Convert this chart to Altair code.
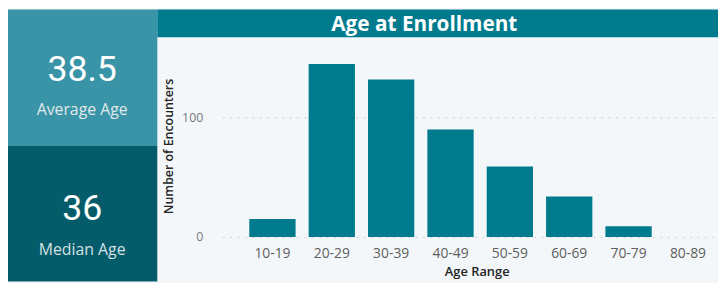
import altair as alt
import pandas as pd

# ---- data ----
age_ranges = ["10-19", "20-29", "30-39", "40-49", "50-59", "60-69", "70-79", "80-89"]
encounters = [15, 145, 132, 90, 59, 34, 9, 0]
average_age = 38.5
median_age = 36
card_labels = ["Average Age", "Median Age"]
chart_title = "Age at Enrollment"

df = pd.DataFrame({"range": age_ranges, "count": encounters})
one = alt.Data(values=[{}])

NUM_FONT = "Roboto"
FONT = "Open Sans"
BAR = "#007B8E"

def rect(x, x2, y, y2, color):
    return alt.Chart(one).mark_rect(color=color).encode(
        x=alt.value(x), x2=alt.value(x2), y=alt.value(y), y2=alt.value(y2)
    )

def text(t, x, y, size, color, weight="normal", font=FONT):
    return alt.Chart(one).mark_text(
        text=t, fontSize=size, color=color, fontWeight=weight, font=font,
        align="center", baseline="alphabetic"
    ).encode(x=alt.value(x), y=alt.value(y))

top_card = rect(-217, -66, -37, 101, "#3A94A7")
bottom_card = rect(-217, -66, 101, 238, "#045C6B")
title_bar = rect(-66, 501, -37, -9, "#007B8E")

bars = alt.Chart(df).mark_bar(color=BAR).encode(
    x=alt.X(
        "range:N",
        sort=age_ranges,
        scale=alt.Scale(paddingInner=0.22, paddingOuter=0.25, align=0.9, round=False),
        axis=alt.Axis(
            title="Age Range", labelAngle=0, ticks=False, domain=False,
            labelPadding=10, labelFontSize=14, labelColor="#605E5C", labelFont=FONT,
            titleFontSize=13, titleColor="#252423", titleFont=FONT,
            titleFontWeight=600, titleX=257, titleY=39, titleBaseline="alphabetic",
        ),
    ),
    y=alt.Y(
        "count:Q",
        scale=alt.Scale(domain=[0, 160], nice=False),
        axis=alt.Axis(
            title="Number of Encounters", values=[0, 100], ticks=False, domain=False,
            grid=True, gridColor="#C8C6C4", gridDash=[1.5, 6], gridWidth=1,
            labelPadding=20, labelFontSize=12.5, labelColor="#777777", labelFont=FONT,
            titleFontSize=12.5, titleColor="#252423", titleFont=FONT,
            titleFontWeight=600, titleX=-55, titleY=101, titleAngle=270,
            titleAlign="center", titleBaseline="middle",
        ),
    ),
)

avg_value = text(f"{average_age}", -142, 35, 36, "white", font=NUM_FONT)
avg_label = text(card_labels[0], -142, 70, 16, "#E1E9EB")
med_value = text(f"{median_age}", -142, 176, 36, "white", font=NUM_FONT)
med_label = text(card_labels[1], -142, 211, 16, "#D5E0E3")
title_text = text(chart_title, 204, -15, 21, "white", weight="bold")

chart = alt.layer(
    top_card, bottom_card, title_bar, bars,
    avg_value, avg_label, med_value, med_label, title_text,
).properties(
    width=497, height=193,
    autosize=alt.AutoSizeParams(type="none"),
    padding={"left": 217, "top": 37, "right": 4, "bottom": 45},
    background="#F3F7FA",
).configure_view(strokeWidth=0)

chart.save("out.html", embed_options={"renderer": "svg", "actions": False})
